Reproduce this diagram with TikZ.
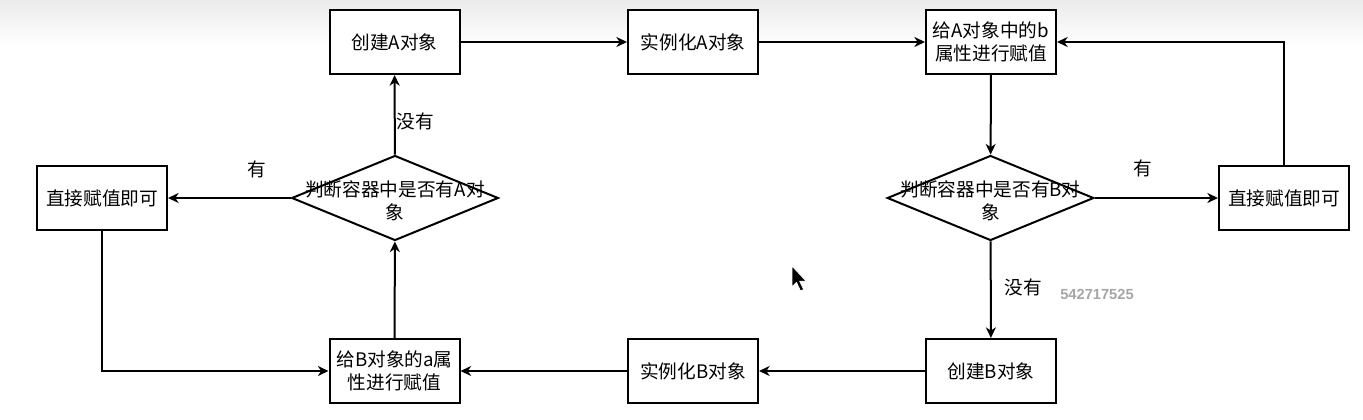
\documentclass[tikz,border=0pt]{standalone}
\usepackage{fontspec}
\setmainfont{Noto Sans CJK SC}
\newfontfamily\wmfont{Liberation Sans}
\usetikzlibrary{arrows.meta,shapes.geometric}
\begin{document}
\begin{tikzpicture}[x=0.75pt,y=-0.75pt,
  txt/.style={font=\fontsize{14}{17}\selectfont},
  box/.style={txt, draw, line width=1.5pt, minimum width=97.5pt, minimum height=48pt, inner sep=1pt, align=center, fill=white},
  dec/.style={draw, diamond, line width=1.5pt, minimum width=155pt, minimum height=63.75pt, inner sep=0pt, fill=white},
  dectext/.style={txt, align=center, inner sep=0pt},
  arr/.style={line width=1.5pt, -{Stealth[length=8pt,width=7.5pt,inset=2.5pt]}},
  lbl/.style={txt, inner sep=0pt},
]
\useasboundingbox (0,0) rectangle (1363,420);
\fill[white] (0,0) rectangle (1363,420);
\shade[top color=black!8, bottom color=white] (0,0) rectangle (1363,45);

% nodes
\node[box] (cA) at (394.5,42) {创建A对象};
\node[box] (iA) at (693,42) {实例化A对象};
\node[box] (gA) at (991,42) {给A对象中的b\\属性进行赋值};
\node[dec] (dB) at (990.5,198) {};
\node[dectext] (dBt) at (990.5,201) {判断容器中是否有B对\\象};
\node[box] (zR) at (1284,198) {直接赋值即可};
\node[box] (cB) at (991,371) {创建B对象};
\node[box] (iB) at (693,371) {实例化B对象};
\node[box] (gB) at (394.5,371) {给B对象的a属\\性进行赋值};
\node[dec] (dA) at (395,198) {};
\node[dectext] (dAt) at (395,201) {判断容器中是否有A对\\象};
\node[box] (zL) at (102,198) {直接赋值即可};

% connectors
\draw[arr] (cA) -- (iA);
\draw[arr] (iA) -- (gA);
\draw[arr] (gA) -- (dB);
\draw[arr] (dB) -- (zR);
\draw[arr] (zR.north) |- (gA.east);
\draw[arr] (dB) -- (cB);
\draw[arr] (cB) -- (iB);
\draw[arr] (iB) -- (gB);
\draw[arr] (gB) -- (dA);
\draw[arr] (dA) -- (zL);
\draw[arr] (zL.south) |- (gB.west);
\draw[arr] (dA) -- (cA);

% edge labels
\node[lbl] (l1) at (415,121) {没有};
\node[lbl] (l2) at (257,169) {有};
\node[lbl] (l3) at (1143,168) {有};
\node[lbl] (l4) at (1023,287) {没有};

% watermark
\node[font=\wmfont\bfseries\fontsize{11}{13}\selectfont, text=black!35, inner sep=0pt] (wm) at (1097,294) {542717525};

% mouse cursor
\filldraw[fill=black, draw=white, line width=0.6pt, line join=miter]
  (792,266) -- ++(0,21) -- ++(4.5,-4.5) -- ++(4,8.5) -- ++(3.2,-1.5) -- ++(-4,-8.3) -- ++(6.5,0) -- cycle;
\end{tikzpicture}
\end{document}
